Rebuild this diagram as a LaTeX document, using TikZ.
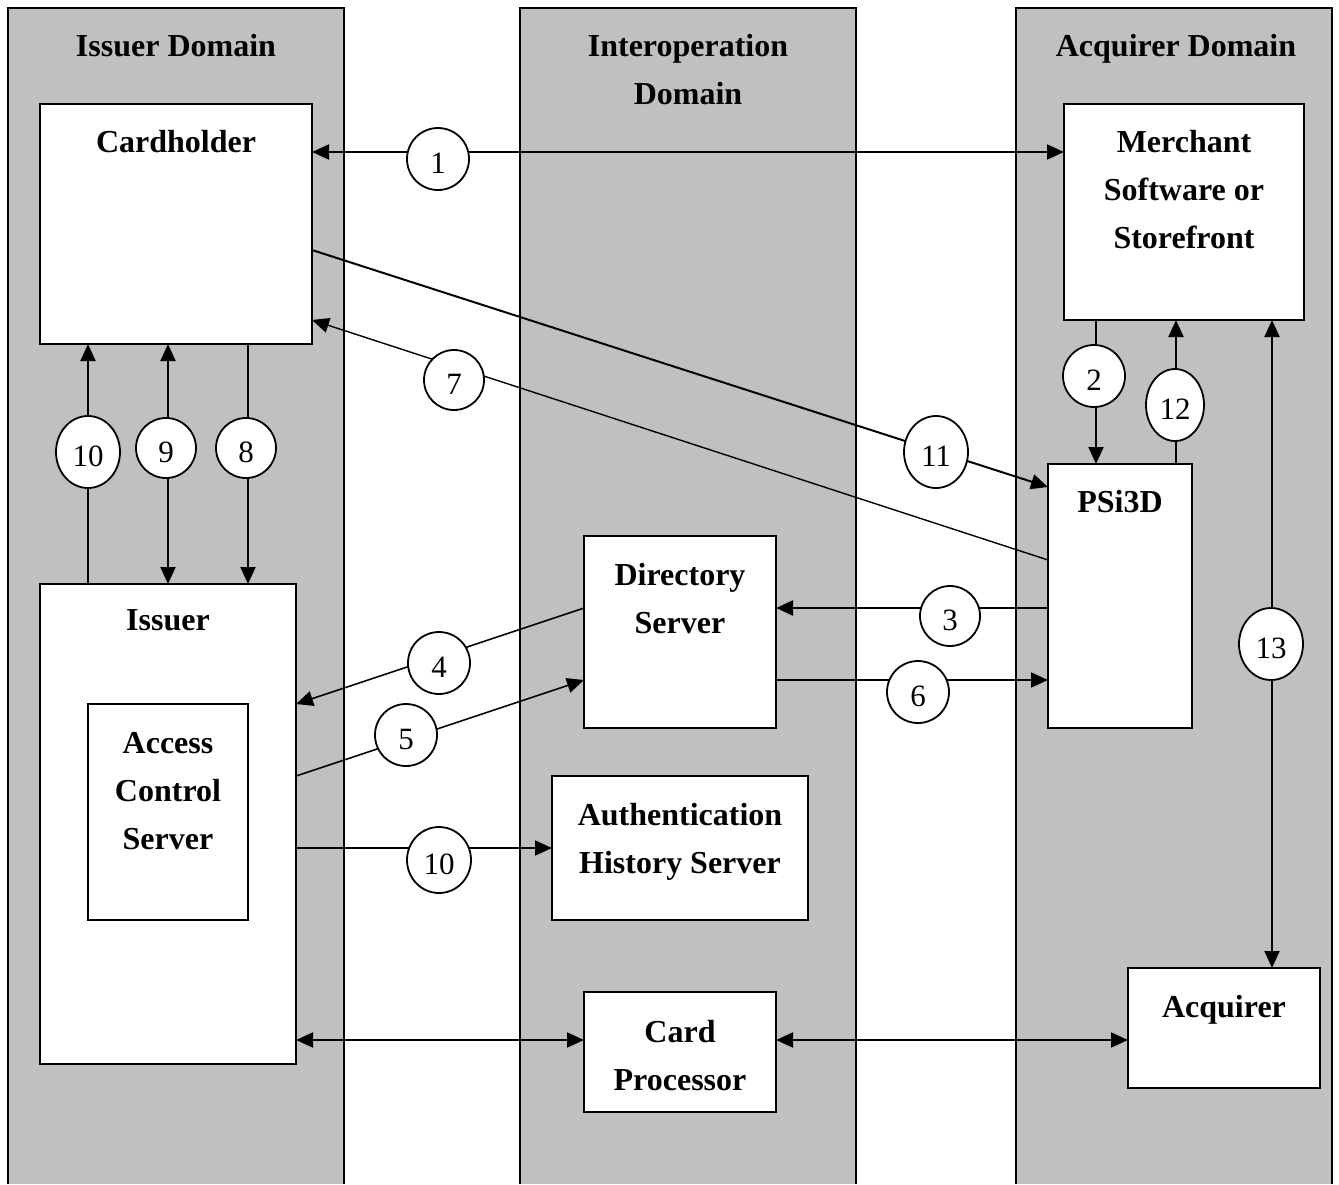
\documentclass[tikz,border=0pt]{standalone}
\usepackage{fontspec}
\setmainfont{Liberation Serif}
\usetikzlibrary{arrows.meta,shapes.geometric}
\definecolor{colgray}{HTML}{C0C0C0}
\begin{document}
\begin{tikzpicture}[x=1pt,y=-1pt,line width=2pt,
  box/.style={draw,fill=white,line width=2pt,rectangle,anchor=north west,inner sep=0pt,outer sep=0pt},
  boxtext/.style={font=\fontsize{32}{48}\selectfont\bfseries,align=center,inner sep=0pt,anchor=north},
  num/.style={circle,draw,fill=white,line width=1.8pt,minimum size=62pt,inner sep=0pt,
    font=\fontsize{31}{31}\selectfont,text height=29pt,text depth=0pt},
  numw/.style={num,ellipse,minimum width=64pt,minimum height=72pt},
  tip/.style={-{Triangle[length=17pt,width=15pt]}},
  tips/.style={{Triangle[length=17pt,width=15pt]}-{Triangle[length=17pt,width=15pt]}}]
\useasboundingbox (0,0) rectangle (1339,1184);
% domain columns
\fill[colgray] (8,8) rectangle (344,1184);
\draw (8,1184) -- (8,8) -- (344,8) -- (344,1184);
\fill[colgray] (520,8) rectangle (856,1184);
\draw (520,1184) -- (520,8) -- (856,8) -- (856,1184);
\fill[colgray] (1016,8) rectangle (1332,1184);
\draw (1016,1184) -- (1016,8) -- (1332,8) -- (1332,1184);
\node[boxtext] (tiss) at (176,33) {Issuer Domain};
\node[boxtext] (tint) at (688,33) {Interoperation\\Domain};
\node[boxtext] (tacq) at (1176,33) {Acquirer Domain};
% boxes
\node[box,minimum width=272pt,minimum height=240pt,label={[boxtext,yshift=-25pt]north:Cardholder}] (card) at (40,104) {};
\node[box,minimum width=240pt,minimum height=216pt,label={[boxtext,yshift=-25pt]north:Merchant\\Software or\\Storefront}] (merch) at (1064,104) {};
\node[box,minimum width=144pt,minimum height=264pt,label={[boxtext,yshift=-25pt]north:PSi3D}] (psi) at (1048,464) {};
\node[box,minimum width=192pt,minimum height=192pt,label={[boxtext,yshift=-26pt]north:Directory\\Server}] (dir) at (584,536) {};
\node[box,minimum width=256pt,minimum height=480pt,label={[boxtext,yshift=-25pt]north:Issuer}] (iss) at (40,584) {};
\node[box,minimum width=160pt,minimum height=216pt,label={[boxtext,yshift=-27pt]north:Access\\Control\\Server}] (acs) at (88,704) {};
\node[box,minimum width=256pt,minimum height=144pt,label={[boxtext,yshift=-26pt]north:Authentication\\History Server}] (ahs) at (552,776) {};
\node[box,minimum width=192pt,minimum height=120pt,label={[boxtext,yshift=-27pt]north:Card\\Processor}] (cp) at (584,992) {};
\node[box,minimum width=192pt,minimum height=120pt,label={[boxtext,yshift=-26pt]north:Acquirer}] (acq) at (1128,968) {};
% connectors
\draw[tips] ([yshift=-48pt]card.north east) -- ([yshift=-48pt]merch.north west);
\draw[tip] ([xshift=32pt]merch.south west) -- ([xshift=48pt]psi.north west);
\draw[tip] ([xshift=128pt]psi.north west) -- ([xshift=112pt]merch.south west);
\draw[tips] ([xshift=208pt]merch.south west) -- ([xshift=144pt]acq.north west);
\draw[tip] ([yshift=-146pt]card.north east) -- ([yshift=-23pt]psi.north west);
\draw[tip,line width=1.4pt] ([yshift=-96pt]psi.north west) -- ([yshift=24pt]card.south east);
\draw[tip] ([xshift=48pt]iss.north west) -- ([xshift=48pt]card.south west);
\draw[tips] ([xshift=128pt]iss.north west) -- ([xshift=128pt]card.south west);
\draw[tip] ([xshift=208pt]card.south west) -- ([xshift=208pt]iss.north west);
\draw[tip,line width=2.4pt] ([yshift=-144pt]psi.north west) -- ([yshift=-72pt]dir.north east);
\draw[tip] ([yshift=-144pt]dir.north east) -- ([yshift=-216pt]psi.north west);
\draw[tip,line width=1.6pt] ([yshift=-72pt]dir.north west) -- ([yshift=-120pt]iss.north east);
\draw[tip,line width=1.6pt] ([yshift=-192pt]iss.north east) -- ([yshift=-144pt]dir.north west);
\draw[tip] ([yshift=-264pt]iss.north east) -- ([yshift=-72pt]ahs.north west);
\draw[tips] ([yshift=-456pt]iss.north east) -- ([yshift=-48pt]cp.north west);
\draw[tips] ([yshift=-48pt]cp.north east) -- ([yshift=-72pt]acq.north west);
% step numbers
\node[num] (n1) at (438,159) {1};
\node[num] (n2) at (1094,376) {2};
\node[numw,minimum width=58pt] (n12) at (1175,405) {12};
\node[numw] (n13) at (1271,644) {13};
\node[numw] (n11) at (936,452) {11};
\node[num,minimum size=60pt] (n7) at (454,380) {7};
\node[numw] (n10a) at (88,452) {10};
\node[num,minimum size=60pt] (n9) at (166,448) {9};
\node[num,minimum size=60pt] (n8) at (246,448) {8};
\node[num,minimum size=60pt] (n3) at (950,616) {3};
\node[num] (n4) at (439,663) {4};
\node[num] (n5) at (406,735) {5};
\node[num] (n6) at (918,692) {6};
\node[numw,minimum height=66pt] (n10b) at (439,860) {10};
\end{tikzpicture}
\end{document}
